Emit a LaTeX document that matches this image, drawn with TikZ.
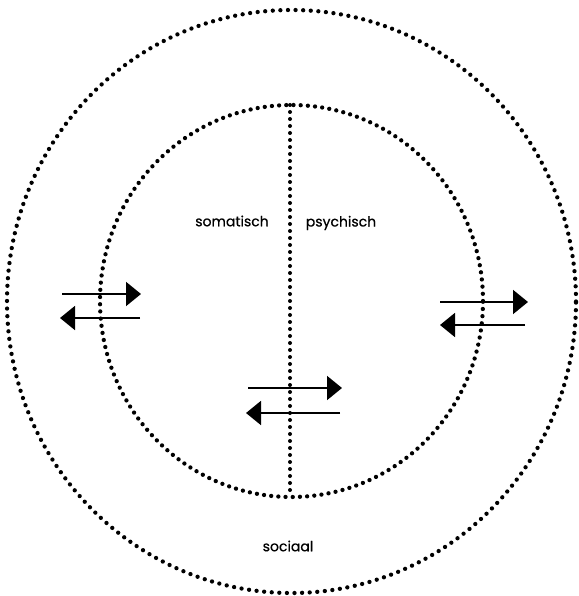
\documentclass[tikz,border=0pt]{standalone}
\usepackage{fontspec}
\setmainfont{Poppins}
\newfontfamily\labelfont[FakeBold=0.6]{Poppins}
\usetikzlibrary{arrows.meta,positioning}

\begin{document}
\begin{tikzpicture}[
    x=1pt, y=-1pt,
    ring/.style={line width=4.3pt, line cap=round, dash pattern=on 0pt off 7.6pt},
    divider/.style={line width=4pt, line cap=round, dash pattern=on 0pt off 7pt},
    flow/.style={line width=1.8pt, -{Triangle[length=15pt,width=24pt]}},
    label/.style={font=\labelfont\fontsize{14}{16}\selectfont, inner sep=0pt}
]
\useasboundingbox (0,0) rectangle (578,596);

% sociaal: outer ring
\draw[ring] (291.5,301.5) ellipse [x radius=284.5pt, y radius=291.5pt];

% inner ring with the divide
\draw[ring, dash pattern=on 0pt off 7.2pt] (291.5,301) ellipse [x radius=191.5pt, y radius=196pt];
\coordinate (top) at (290,105);
\coordinate (bottom) at (290,497);
\draw[divider] (top) -- (bottom);

% Labels
\node[label] (soma) at (232,221) {somatisch};
\node[label] (psych) at (341,223) {psychisch};
\node[label] (soc) at (288,546) {sociaal};

% Exchange: left
\coordinate (l1a) at (62,294);
\coordinate (l1b) at (141,294);
\coordinate (l2a) at (140,318);
\coordinate (l2b) at (60,318);
\draw[flow] (l1a) -- (l1b);
\draw[flow] (l2a) -- (l2b);

% Exchange: right
\coordinate (r1a) at (440,302);
\coordinate (r1b) at (528,302);
\coordinate (r2a) at (525,325);
\coordinate (r2b) at (440,325);
\draw[flow] (r1a) -- (r1b);
\draw[flow] (r2a) -- (r2b);

% Exchange: middle
\coordinate (m1a) at (248,388);
\coordinate (m1b) at (342,388);
\coordinate (m2a) at (340,413);
\coordinate (m2b) at (246,413);
\draw[flow] (m1a) -- (m1b);
\draw[flow] (m2a) -- (m2b);

\end{tikzpicture}
\end{document}
